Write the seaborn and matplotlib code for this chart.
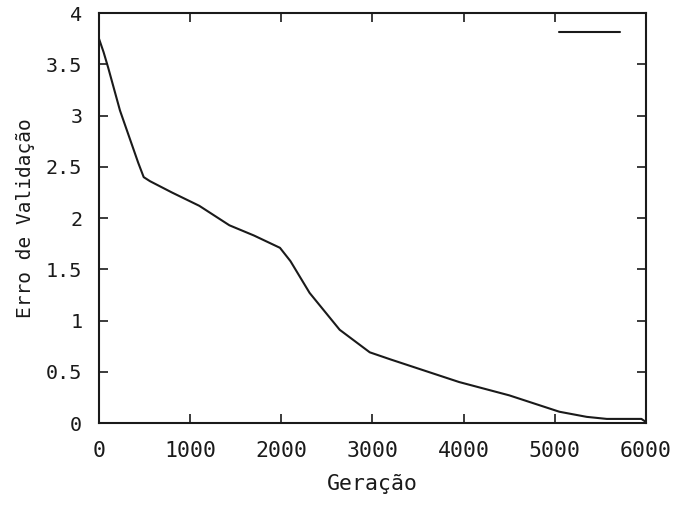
import matplotlib
matplotlib.use("Agg")
import matplotlib.pyplot as plt
import seaborn as sns
import pandas as pd

# Data
geracao = [0, 50, 100, 230, 430, 490, 560, 800, 1100, 1430, 1700, 1985, 2100,
           2310, 2640, 2970, 3200, 3950, 4500, 5050, 5350, 5570, 5950, 6000]
erro = [3.75, 3.62, 3.47, 3.05, 2.54, 2.40, 2.36, 2.25, 2.12, 1.93, 1.83, 1.71,
        1.58, 1.27, 0.91, 0.69, 0.62, 0.40, 0.27, 0.11, 0.06, 0.04, 0.04, 0.01]
xticks = [0, 1000, 2000, 3000, 4000, 5000, 6000]
xticklabels = ["0", "1000", "2000", "3000", "4000", "5000", "6000"]
yticks = [0, 0.5, 1, 1.5, 2, 2.5, 3, 3.5, 4]
yticklabels = ["0", "0.5", "1", "1.5", "2", "2.5", "3", "3.5", "4"]

sns.set_style("ticks")
plt.rcParams["font.family"] = ["DejaVu Sans Mono", "DejaVu Sans"]

df = pd.DataFrame({"Geração": geracao, "Erro": erro})

fig = plt.figure(figsize=(6.75, 5.08), dpi=100)
ax = fig.add_axes([0.1467, 0.1673, 0.957 - 0.1467, 0.974 - 0.1673])
sns.lineplot(data=df, x="Geração", y="Erro", ax=ax, color="#1a1a1a",
             linewidth=1.5, label="_nolegend_")

ax.set_xlim(0, 6000)
ax.set_ylim(0, 4)
ax.set_xticks(xticks)
ax.set_xticklabels(xticklabels, fontsize=15.5)
ax.set_yticks(yticks)
ax.set_yticklabels(yticklabels, fontsize=14.5)
ax.tick_params(direction="in", length=6.5, width=1.2, top=True, right=True,
               colors="#1a1a1a")
ax.tick_params(axis="x", pad=13)
ax.tick_params(axis="y", pad=12)
for s in ax.spines.values():
    s.set_linewidth(1.5)
    s.set_color("#1a1a1a")
ax.set_xlabel("Geração", fontsize=15.5, color="#1a1a1a", labelpad=9)
ax.set_ylabel("Erro de Validação", fontsize=14, color="#1a1a1a", labelpad=8)

line = ax.get_lines()[0]
ax.legend([line], [""], loc="upper right", frameon=False, handlelength=3.0,
          handletextpad=0.0, borderaxespad=0.3, fontsize=14.5,
          bbox_to_anchor=(1 - 12 / 547, 1 + 3 / 410))

fig.savefig("out.png", dpi=100)
